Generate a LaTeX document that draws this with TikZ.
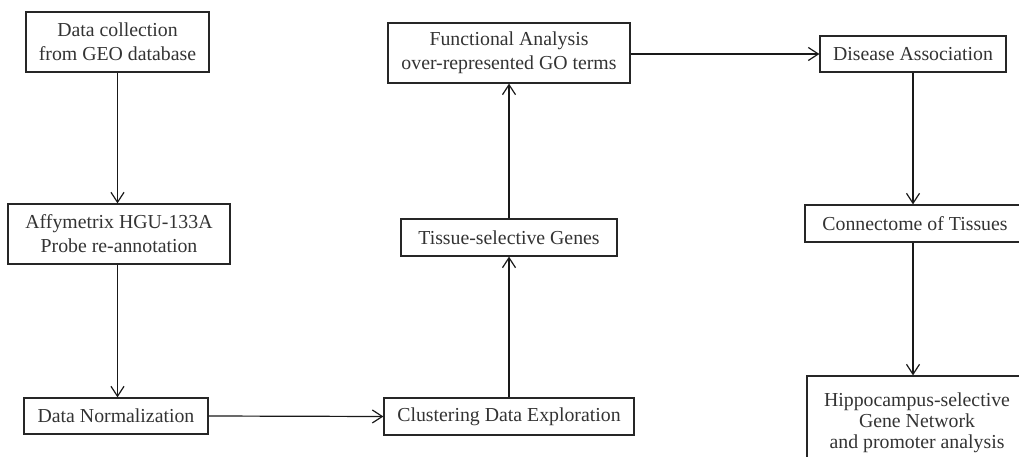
\documentclass[tikz,border=0pt]{standalone}
\usepackage{fontspec}
\setmainfont{Liberation Serif}
\usetikzlibrary{arrows.meta,positioning}

\tikzset{
  stagebox/.style={draw=black!85, line width=1.2pt, align=center, inner sep=0pt,
    font=\fontsize{19.8}{24}\selectfont, text=black!80},
  flowarrow/.style={-{Straight Barb[length=10pt,width=13pt,line width=1.2pt]},
    line width=1.2pt, black!90}
}

\begin{document}
\begin{tikzpicture}[x=1pt, y=-1pt]
    \useasboundingbox (0,0) rectangle (1019,457);
    \clip (0,0) rectangle (1019,457);

    % Left column
    \node[stagebox, minimum width=183pt, minimum height=60pt] (collect) at (117.5,42) {Data collection\\from GEO database};
    \node[stagebox, minimum width=222pt, minimum height=60pt] (affy) at (119,234) {Affymetrix HGU-133A\\Probe re-annotation};
    \node[stagebox, minimum width=184pt, minimum height=36pt] (norm) at (116,416) {Data Normalization};

    % Middle column
    \node[stagebox, minimum width=250pt, minimum height=37pt] (clust) at (509,416.5) {Clustering Data Exploration};
    \node[stagebox, minimum width=216pt, minimum height=37pt] (tissue) at (509,237.5) {Tissue-selective Genes};
    \node[stagebox, minimum width=242pt, minimum height=60pt] (func) at (509,53) {Functional Analysis\\over-represented GO terms};

    % Right column
    \node[stagebox, minimum width=186pt, minimum height=36pt] (disease) at (913,54) {Disease Association};
    \node[stagebox, minimum width=220pt, minimum height=37pt] (connect) at (915,223.5) {Connectome of Tissues};
    \node[stagebox, minimum width=220pt, minimum height=94pt, font=\fontsize{19.8}{21}\selectfont] (hippo) at (917,423) {Hippocampus-selective\\Gene Network\\and promoter analysis};

    % Connectors
    \draw[flowarrow] (collect.south) -- (collect.south |- affy.north);
    \draw[flowarrow] (collect.south |- affy.south) -- (collect.south |- norm.north);
    \draw[flowarrow] (norm.east) -- (clust.west);
    \draw[flowarrow] (clust.north) -- (tissue.south);
    \draw[flowarrow] (tissue.north) -- (func.south);
    \draw[flowarrow] (func.east |- disease.west) -- (disease.west);
    \draw[flowarrow] (disease.south) -- (disease.south |- connect.north);
    \draw[flowarrow] (disease.south |- connect.south) -- (disease.south |- hippo.north);
\end{tikzpicture}
\end{document}
